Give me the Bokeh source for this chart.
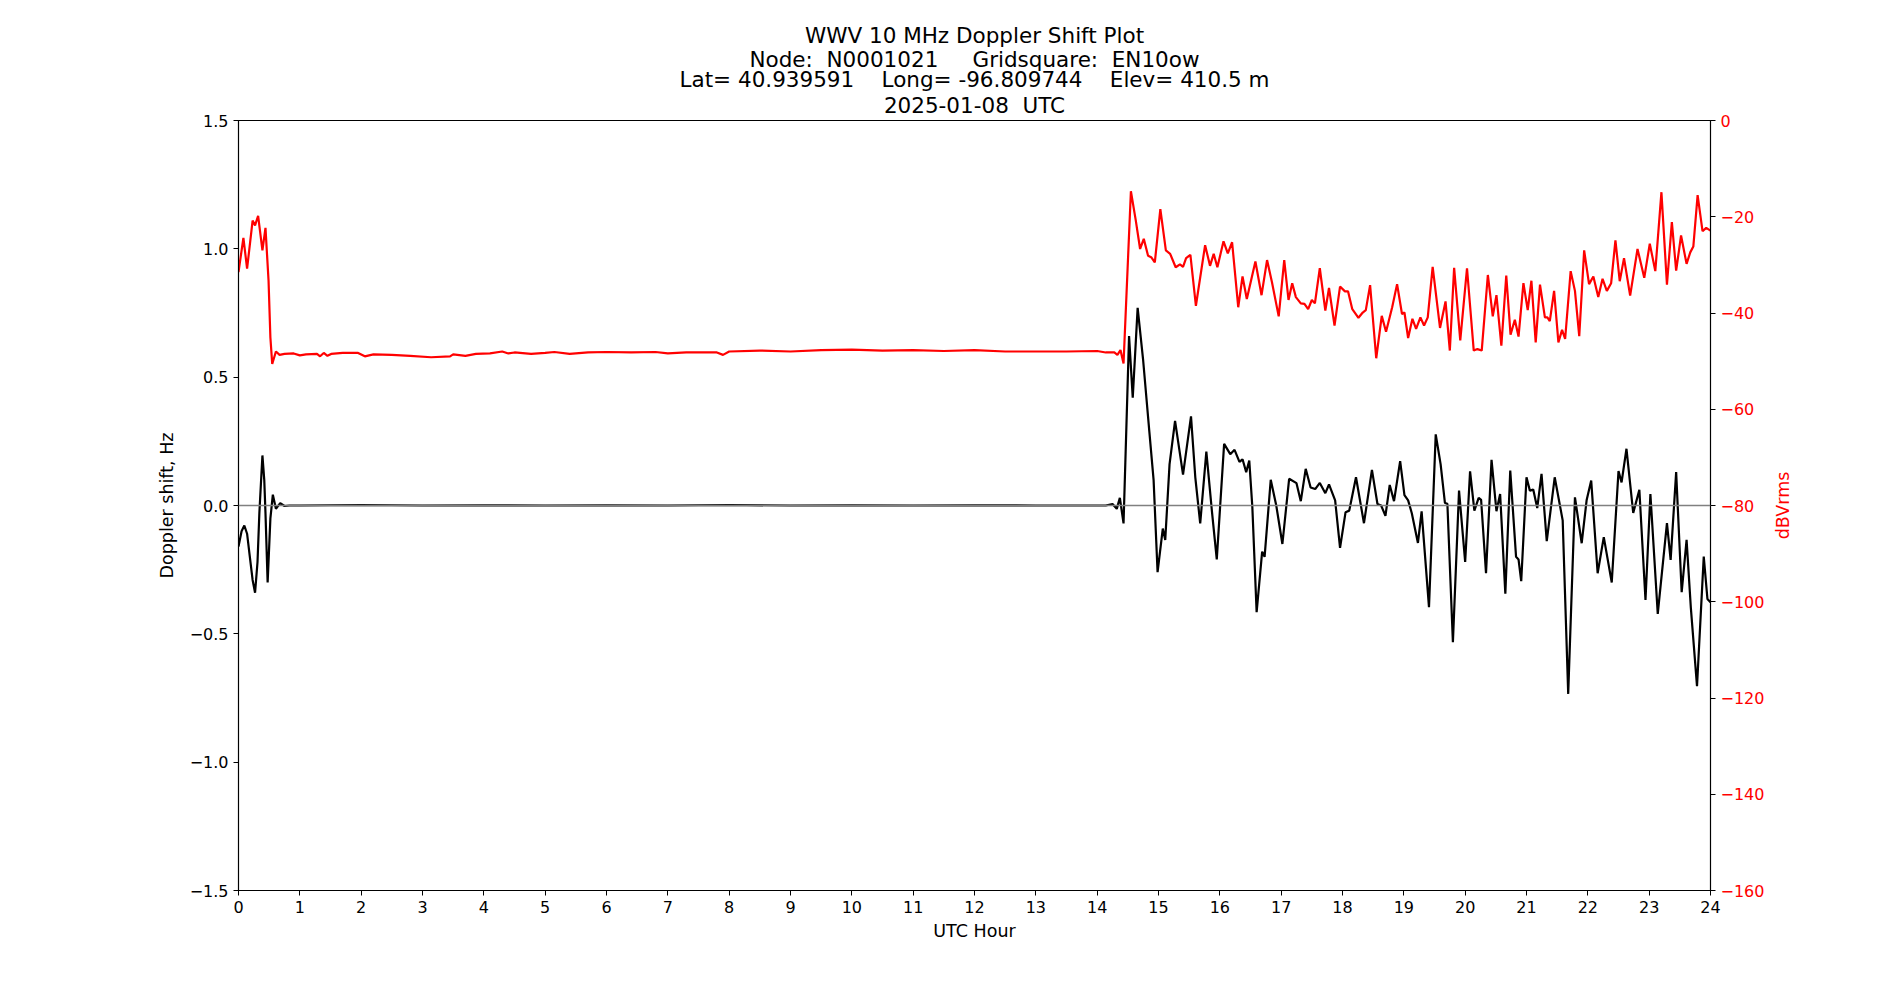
from bokeh.plotting import figure
from bokeh.layouts import row
from bokeh.models import Range1d, LinearAxis, FixedTicker, Span, Title
from bokeh.embed import file_html
from bokeh.resources import INLINE

# ---- data ----
doppler_hours = [0.0, 0.05, 0.095, 0.14, 0.18, 0.23, 0.27, 0.31, 0.34, 0.39, 0.42, 0.44, 0.475, 0.52, 0.56,
                 0.61, 0.68, 0.75, 0.83, 1.0, 2.0, 3.0, 4.0, 5.0, 6.0, 7.0, 8.0, 9.0, 10.0, 11.0, 12.0, 13.0,
                 14.14, 14.25, 14.32, 14.37, 14.43, 14.52, 14.58, 14.66, 14.75, 14.85, 14.92, 14.985, 15.07,
                 15.11, 15.18, 15.27, 15.40, 15.53, 15.60, 15.68, 15.78, 15.87, 15.95, 16.07, 16.17, 16.24,
                 16.32, 16.37, 16.43, 16.48, 16.53, 16.60, 16.69, 16.73, 16.83, 16.92, 17.02, 17.13, 17.25,
                 17.32, 17.40, 17.48, 17.555, 17.63, 17.72, 17.78, 17.88, 17.96, 18.05, 18.11, 18.22, 18.35,
                 18.48, 18.57, 18.63, 18.70, 18.77, 18.84, 18.94, 19.01, 19.07, 19.13, 19.23, 19.29, 19.41,
                 19.52, 19.60, 19.67, 19.71, 19.80, 19.90, 20.00, 20.08, 20.15, 20.22, 20.26, 20.34, 20.43,
                 20.51, 20.57, 20.655, 20.735, 20.83, 20.87, 20.914, 21.00, 21.055, 21.11, 21.175, 21.245,
                 21.33, 21.46, 21.59, 21.68, 21.79, 21.90, 21.98, 22.055, 22.16, 22.26, 22.39, 22.50, 22.55,
                 22.63, 22.74, 22.84, 22.94, 23.02, 23.14, 23.29, 23.35, 23.44, 23.53, 23.61, 23.68, 23.78,
                 23.89, 23.95, 24.0]
doppler_hz = [-0.16, -0.10, -0.078, -0.11, -0.19, -0.29, -0.34, -0.22, -0.03, 0.195, 0.10, -0.03, -0.30, -0.05,
              0.042, -0.013, 0.009, -0.002, 0.0, 0.0, 0.002, 0.0, 0.001, 0.0, 0.001, 0.0, 0.002, 0.0, 0.001,
              0.0, 0.001, 0.0,
              0.0, 0.006, -0.013, 0.03, -0.07, 0.66, 0.42, 0.77, 0.565, 0.29, 0.10, -0.26, -0.09,
              -0.134, 0.16, 0.33, 0.12, 0.347, 0.11, -0.07, 0.21, -0.02, -0.21, 0.24, 0.20, 0.217,
              0.17, 0.18, 0.13, 0.175, -0.006, -0.416, -0.18, -0.20, 0.10, 0.0, -0.15, 0.104, 0.087,
              0.017, 0.143, 0.07, 0.064, 0.088, 0.048, 0.082, 0.02, -0.165, -0.026, -0.02, 0.11, -0.069,
              0.139, 0.006, 0.0, -0.04, 0.08, 0.017, 0.173, 0.04, 0.02, -0.03, -0.146, -0.023, -0.396,
              0.277, 0.16, 0.01, 0.007, -0.533, 0.058, -0.22, 0.133, -0.02, 0.03, 0.022, -0.264, 0.178,
              -0.022, 0.045, -0.344, 0.136, -0.20, -0.21, -0.295, 0.11, 0.058, 0.062, -0.01, 0.123,
              -0.139, 0.11, -0.058, -0.734, 0.032, -0.147, 0.02, 0.097, -0.264, -0.123, -0.30, 0.134, 0.09,
              0.221, -0.029, 0.061, -0.368, 0.045, -0.422, -0.069, -0.212, 0.13, -0.338, -0.134, -0.40, -0.704,
              -0.199, -0.364, -0.377]

power_hours = [0.0, 0.08, 0.14, 0.23, 0.27, 0.32, 0.39, 0.44, 0.49, 0.52, 0.55, 0.61, 0.67, 0.75, 0.9, 1.0,
               1.1, 1.28, 1.33, 1.39, 1.45, 1.51, 1.7, 1.95, 2.06, 2.2, 2.5, 2.8, 3.14, 3.45, 3.5, 3.7, 3.87,
               4.1, 4.3, 4.4, 4.5, 4.77, 5.0, 5.15, 5.4, 5.7, 6.0, 6.4, 6.8, 7.0, 7.3, 7.8, 7.9, 8.0, 8.5,
               9.0, 9.5, 10.0, 10.5, 11.0, 11.5, 12.0, 12.5, 13.0, 13.5, 14.0, 14.14, 14.28, 14.33, 14.38,
               14.43, 14.55, 14.63, 14.70, 14.76, 14.83, 14.88, 14.94, 15.03, 15.12, 15.19, 15.28, 15.35,
               15.40, 15.45, 15.52, 15.61, 15.76, 15.84, 15.90, 15.96, 16.06, 16.13, 16.20, 16.30, 16.37,
               16.44, 16.58, 16.68, 16.77, 16.85, 16.96, 17.05, 17.12, 17.18, 17.24, 17.32, 17.38, 17.44,
               17.50, 17.55, 17.63, 17.72, 17.78, 17.87, 17.96, 18.04, 18.09, 18.16, 18.26, 18.33, 18.38,
               18.45, 18.55, 18.64, 18.71, 18.81, 18.89, 18.97, 19.01, 19.07, 19.14, 19.20, 19.27, 19.33,
               19.39, 19.47, 19.59, 19.68, 19.75, 19.82, 19.92, 20.03, 20.14, 20.20, 20.27, 20.37, 20.45,
               20.51, 20.59, 20.67, 20.74, 20.81, 20.87, 20.95, 21.02, 21.08, 21.15, 21.22, 21.30, 21.34,
               21.38, 21.45, 21.52, 21.58, 21.63, 21.72, 21.79, 21.86, 21.94, 22.02, 22.09, 22.17, 22.24,
               22.31, 22.38, 22.45, 22.52, 22.59, 22.69, 22.81, 22.92, 23.01, 23.10, 23.20, 23.29, 23.37,
               23.44, 23.52, 23.61, 23.67, 23.72, 23.79, 23.87, 23.93, 24.0]
power_dbv = [-31.5, -24.4, -30.8, -20.8, -21.8, -19.8, -27.0, -22.3, -33.3, -45.1, -50.6, -48.0, -48.7, -48.5,
             -48.4, -48.8, -48.6, -48.5, -49.0, -48.3, -48.9, -48.5, -48.3, -48.3, -49.0, -48.6, -48.7, -48.9,
             -49.2, -49.0, -48.6, -48.9, -48.5, -48.4, -48.0, -48.4, -48.2, -48.5, -48.3, -48.1, -48.5, -48.2,
             -48.1, -48.2, -48.1, -48.4, -48.2, -48.2, -48.7, -48.0, -47.8, -48.0, -47.7, -47.6, -47.8, -47.7,
             -47.9, -47.7, -48.0, -48.0, -48.0, -47.9, -48.2, -48.2, -48.7, -47.7, -50.5, -14.7, -20.8, -26.7,
             -24.6, -28.1, -28.4, -29.5, -18.4, -27.0, -27.7, -30.5, -29.9, -30.4, -28.6, -27.9, -38.5, -25.9,
             -30.2, -27.7, -30.5, -25.1, -27.6, -25.3, -38.8, -32.4, -37.1, -29.3, -36.3, -29.0, -33.6, -40.7,
             -29.0, -37.3, -33.8, -36.7, -38.0, -38.1, -39.2, -37.3, -38.0, -30.7, -39.5, -34.8, -42.6, -34.5,
             -35.5, -35.5, -39.2, -41.0, -39.9, -39.4, -34.2, -49.4, -40.6, -43.9, -38.8, -34.0, -40.2, -39.9,
             -45.2, -41.2, -43.3, -40.9, -42.6, -40.9, -30.4, -43.1, -37.6, -47.8, -30.6, -45.7, -30.7, -47.8,
             -47.5, -47.8, -32.1, -40.7, -36.3, -46.8, -32.2, -44.5, -41.4, -44.9, -33.8, -39.4, -33.3, -46.1,
             -34.1, -40.9, -40.9, -41.7, -35.4, -46.1, -43.5, -45.4, -31.3, -35.4, -44.8, -27.0, -34.0, -32.4,
             -36.7, -32.9, -35.4, -33.8, -24.9, -33.4, -28.6, -36.4, -26.7, -32.7, -25.6, -31.3, -14.9, -34.1,
             -21.1, -31.2, -23.9, -29.8, -27.4, -26.2, -15.5, -23.0, -22.3, -22.9]

x_ticks = list(range(0, 25))
left_ticks = [-1.5, -1.0, -0.5, 0.0, 0.5, 1.0, 1.5]
left_labels = ["\u22121.5", "\u22121.0", "\u22120.5", "0.0", "0.5", "1.0", "1.5"]
right_ticks = [-160, -140, -120, -100, -80, -60, -40, -20, 0]
right_labels = ["\u2212160", "\u2212140", "\u2212120", "\u2212100", "\u221280", "\u221260", "\u221240", "\u221220", "0"]
title_lines = ["WWV 10 MHz Doppler Shift Plot",
               "Node:  N0001021     Gridsquare:  EN10ow",
               "Lat= 40.939591    Long= -96.809744    Elev= 410.5 m",
               "2025-01-08  UTC"]
right_axis_title = "dBVrms"

FONT = "DejaVu Sans"
NBSP = "\u00a0"

p = figure(width=1770, height=1000, output_backend="svg", toolbar_location=None,
           x_range=Range1d(0, 24), y_range=Range1d(-1.5, 1.5),
           min_border_left=238, min_border_right=60, min_border_top=120, min_border_bottom=110)
p.extra_y_ranges = {"db": Range1d(-160, 0)}
p.grid.visible = False
p.outline_line_color = "black"
p.outline_line_width = 1.1
p.background_fill_color = "white"
p.border_fill_color = "white"

# title lines: bottom line is added first (closest to the frame)
gaps = [4.7, -7.4, -6.2, 0]
for line, gap in zip(reversed(title_lines), gaps):
    p.add_layout(Title(text=line.replace(" ", NBSP), align="center", text_font=FONT,
                       text_font_size="21.5px", text_font_style="normal", text_color="black",
                       standoff=gap, offset=0), "above")


def style_axis(ax, color):
    ax.axis_line_color = "black"
    ax.axis_line_width = 1.1
    ax.major_tick_line_color = "black"
    ax.major_tick_out = 5
    ax.major_tick_in = 0
    ax.minor_tick_out = 0
    ax.minor_tick_in = 0
    ax.major_label_text_font = FONT
    ax.major_label_text_font_size = "16px"
    ax.major_label_text_color = color
    ax.major_label_standoff = 5
    ax.axis_label_text_font = FONT
    ax.axis_label_text_font_size = "17.5px"
    ax.axis_label_text_font_style = "normal"
    ax.axis_label_text_color = color


xa = p.xaxis[0]
xa.ticker = FixedTicker(ticks=x_ticks)
xa.axis_label = "UTC Hour"
style_axis(xa, "black")
xa.axis_label_standoff = 5

ya = p.yaxis[0]
ya.ticker = FixedTicker(ticks=left_ticks)
ya.major_label_overrides = {t: s for t, s in zip(left_ticks, left_labels)}
ya.axis_label = "Doppler shift, Hz"
style_axis(ya, "black")
ya.axis_label_standoff = 10

ra = LinearAxis(y_range_name="db", ticker=FixedTicker(ticks=right_ticks))
ra.major_label_overrides = {t: s for t, s in zip(right_ticks, right_labels)}
style_axis(ra, "red")
p.add_layout(ra, "right")

p.line(power_hours, power_dbv, y_range_name="db", line_color="#ff0000", line_width=2.2)
p.line(doppler_hours, doppler_hz, line_color="black", line_width=2.2)
p.add_layout(Span(location=0, dimension="width", line_color="#808080", line_width=1.5))

# narrow companion panel carrying the right-axis title (reads bottom-to-top, centred on the axis)
p2 = figure(width=120, height=1000, output_backend="svg", toolbar_location=None,
            x_range=Range1d(0, 1), y_range=Range1d(-160, 0),
            x_axis_location=None, y_axis_location=None,
            min_border_left=0, min_border_right=0, min_border_top=120, min_border_bottom=110)
p2.grid.visible = False
p2.outline_line_color = None
p2.background_fill_color = "white"
p2.border_fill_color = "white"
p2.add_layout(Title(text=right_axis_title, align="center", text_font=FONT, text_font_size="17.5px",
                    text_font_style="normal", text_color="red", standoff=0, offset=0), "left")

layout = row(p, p2, spacing=0)
open("out.html", "w").write(file_html(layout, INLINE))
